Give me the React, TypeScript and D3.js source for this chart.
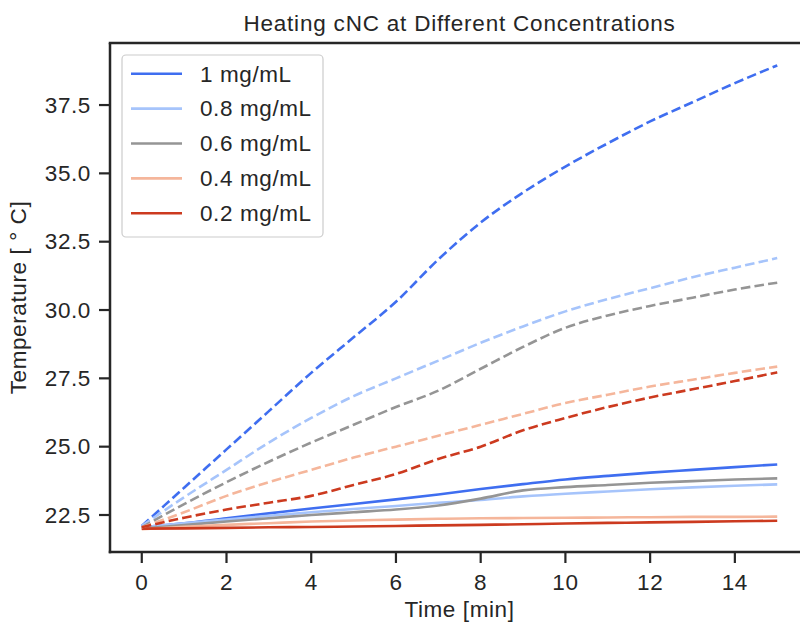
import React from "react";
import * as d3 from "d3";

const time = [0, 1, 2, 3, 4, 5, 6, 7, 8, 9, 10, 11, 12, 13, 14, 15];
const labels = ["1 mg/mL", "0.8 mg/mL", "0.6 mg/mL", "0.4 mg/mL", "0.2 mg/mL"];
const colors = ["#3f6ef0", "#a6c4fb", "#959595", "#f5b69b", "#cc3a1f"];

// dashed series
const dashed1 = [22.1, 23.5, 24.9, 26.3, 27.7, 29.0, 30.3, 31.85, 33.2, 34.3, 35.25, 36.1, 36.9, 37.6, 38.3, 38.95];
const dashed08 = [22.1, 23.15, 24.15, 25.15, 26.05, 26.85, 27.5, 28.15, 28.8, 29.4, 29.95, 30.4, 30.8, 31.2, 31.55, 31.9];
const dashed06 = [22.05, 22.9, 23.7, 24.45, 25.15, 25.8, 26.45, 27.05, 27.85, 28.65, 29.35, 29.8, 30.15, 30.45, 30.75, 31.0];
const dashed04 = [22.05, 22.6, 23.2, 23.7, 24.15, 24.6, 25.0, 25.4, 25.8, 26.2, 26.6, 26.9, 27.2, 27.45, 27.7, 27.93];
const dashed02 = [22.05, 22.4, 22.7, 22.95, 23.2, 23.6, 24.0, 24.55, 25.0, 25.6, 26.05, 26.45, 26.8, 27.1, 27.4, 27.72];

// solid series
const solid1 = [22.05, 22.2, 22.38, 22.56, 22.74, 22.9, 23.07, 23.25, 23.45, 23.63, 23.8, 23.93, 24.05, 24.15, 24.25, 24.35];
const solid08 = [22.05, 22.2, 22.33, 22.47, 22.6, 22.72, 22.83, 22.95, 23.05, 23.18, 23.28, 23.36, 23.44, 23.51, 23.57, 23.62];
const solid06 = [22.0, 22.13, 22.26, 22.38, 22.5, 22.6, 22.7, 22.85, 23.1, 23.4, 23.52, 23.6, 23.68, 23.74, 23.8, 23.84];
const solid04 = [21.98, 22.07, 22.14, 22.2, 22.26, 22.3, 22.33, 22.36, 22.38, 22.39, 22.4, 22.41, 22.42, 22.43, 22.43, 22.44];
const solid02 = [22.0, 22.01, 22.03, 22.05, 22.06, 22.08, 22.1, 22.12, 22.14, 22.16, 22.19, 22.21, 22.23, 22.25, 22.27, 22.29];

const xTicks = [0, 2, 4, 6, 8, 10, 12, 14];
const yTicks = [22.5, 25.0, 27.5, 30.0, 32.5, 35.0, 37.5];

const dashedSeries = [dashed1, dashed08, dashed06, dashed04, dashed02];
const solidSeries = [solid1, solid08, solid06, solid04, solid02];

const W = 800;
const H = 622;
const left = 110, right = 809, top = 43, bottom = 552;
const FONT = "'Liberation Sans', Arial, sans-serif";
const INK = "#262626";

export default function App() {
  const x = d3.scaleLinear().domain([-0.75, 15.75]).range([left, right]);
  const y = d3.scaleLinear().domain([21.146, 39.77]).range([bottom, top]);
  const line = d3
    .line<number>()
    .x((_, i) => x(time[i]))
    .y((d) => y(d))
    .curve(d3.curveMonotoneX);

  const textStyle = { fontFamily: FONT, fontSize: 22.5, letterSpacing: "0.6px", fill: INK } as const;

  return (
    <svg width={W} height={H} style={{ position: "absolute", left: 0, top: 0, background: "#fff" }}>
      <rect x={0} y={0} width={W} height={H} fill="#fff" />
      <defs>
        <clipPath id="plotclip">
          <rect x={left} y={top} width={right - left} height={bottom - top} />
        </clipPath>
      </defs>
      <g clipPath="url(#plotclip)">
        {solidSeries.map((s, i) => (
          <path key={"s" + i} d={line(s) || ""} fill="none" stroke={colors[i]} strokeWidth={2.6} strokeLinecap="butt" />
        ))}
        {dashedSeries.map((s, i) => (
          <path
            key={"d" + i}
            d={line(s) || ""}
            fill="none"
            stroke={colors[i]}
            strokeWidth={2.6}
            strokeDasharray="9.6,4.2"
          />
        ))}
      </g>
      {/* spines */}
      <g stroke={INK} strokeWidth={2.5} fill="none">
        <line x1={left} y1={top} x2={left} y2={bottom + 1.25} />
        <line x1={left - 1.25} y1={bottom} x2={right} y2={bottom} />
        <line x1={left - 1.25} y1={top} x2={right} y2={top} />
        <line x1={right} y1={top} x2={right} y2={bottom} />
      </g>
      {/* x ticks */}
      {xTicks.map((t) => (
        <g key={"xt" + t}>
          <line x1={x(t)} x2={x(t)} y1={bottom} y2={bottom + 11} stroke={INK} strokeWidth={2.2} />
          <text x={x(t)} y={590} textAnchor="middle" {...textStyle}>
            {t}
          </text>
        </g>
      ))}
      {/* y ticks */}
      {yTicks.map((t) => (
        <g key={"yt" + t}>
          <line x1={left - 11} x2={left} y1={y(t)} y2={y(t)} stroke={INK} strokeWidth={2.2} />
          <text x={91} y={y(t) + 7.8} textAnchor="end" {...textStyle}>
            {t.toFixed(1)}
          </text>
        </g>
      ))}
      {/* labels */}
      <text x={(left + right) / 2} y={617} textAnchor="middle" {...textStyle}>
        Time [min]
      </text>
      <text
        transform={`translate(26, ${(top + bottom) / 2}) rotate(-90)`}
        textAnchor="middle"
        {...textStyle}
      >
        Temperature [ ° C]
      </text>
      <text x={(left + right) / 2} y={31} textAnchor="middle" {...textStyle} fontSize={22.5} letterSpacing="0.8px">
        Heating cNC at Different Concentrations
      </text>
      {/* legend */}
      <rect x={122} y={55} width={201} height={182} rx={4} ry={4} fill="#fff" fillOpacity={0.8} stroke="#cccccc" strokeWidth={1.2} />
      {labels.map((lab, i) => {
        const ly = 73.7 + i * 34.9;
        return (
          <g key={"lg" + i}>
            <line x1={131} x2={182} y1={ly} y2={ly} stroke={colors[i]} strokeWidth={2.6} />
            <text x={200} y={ly + 7.8} {...textStyle}>
              {lab}
            </text>
          </g>
        );
      })}
    </svg>
  );
}
